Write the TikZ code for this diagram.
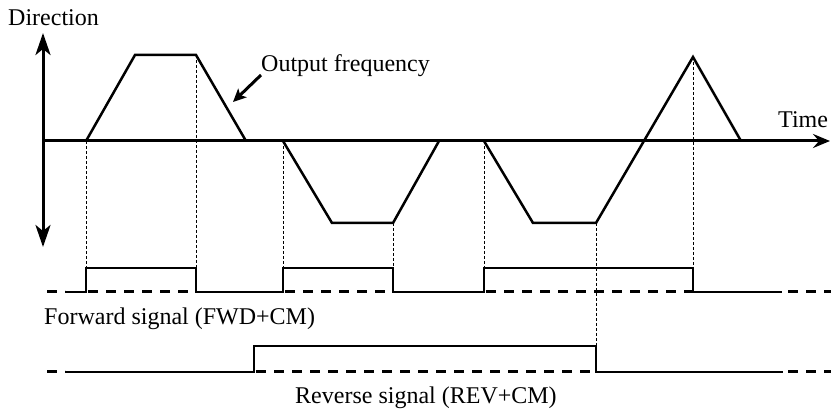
\documentclass[tikz,border=0pt]{standalone}
\usepackage{fontspec}
\setmainfont{Liberation Serif}
\usetikzlibrary{arrows.meta}
\begin{document}
\begin{tikzpicture}[x=1pt,y=-1pt,
  lbl/.style={font=\fontsize{24}{28}\selectfont, inner sep=0pt, anchor=base west},
  axisline/.style={line width=3pt},
  wave/.style={line width=2.5pt, line join=miter},
  sig/.style={line width=2pt, line join=miter},
  sigdash/.style={line width=3pt, dash pattern=on 10pt off 8pt},
  guide/.style={line width=1pt, dash pattern=on 3pt off 2pt}]
\useasboundingbox (0,0) rectangle (831,414);

% texts
\node[lbl] (dir) at (8,26) {Direction};
\node[lbl] (of) at (261,72) {Output frequency};
\node[lbl] (time) at (778,128) {Time};
\node[lbl] (fwd) at (44,325) {Forward signal (FWD+CM)};
\node[lbl] (rev) at (295,403) {Reverse signal (REV+CM)};

% guides
\draw[guide] (86,141) -- (86,268);
\draw[guide] (196,55) -- (196,268);
\draw[guide] (283,141) -- (283,268);
\draw[guide] (393,223) -- (393,268);
\draw[guide] (484,141) -- (484,268);
\draw[guide] (596,223) -- (596,346);
\draw[guide] (693,57) -- (693,268);

% axes
\coordinate (vtop) at (43,33);
\coordinate (vbot) at (43,247);
\coordinate (hstart) at (43,141);
\coordinate (hend) at (830,141);
\draw[axisline, {Stealth[length=22pt,width=15pt,inset=6pt]}-{Stealth[length=22pt,width=15pt,inset=6pt]}] (vtop) -- (vbot);
\draw[axisline, -{Stealth[length=17pt,width=14pt,inset=6pt]}] (hstart) -- (hend);

% output frequency
\draw[wave] (86,141) -- (135,55) -- (196,55) -- (246,141);
\draw[wave] (283,141) -- (332,223) -- (393,223) -- (439,141);
\draw[wave] (484,141) -- (533,223) -- (596,223) -- (693,57) -- (741,141);

\coordinate (oftip) at (233,102);
\draw[line width=3pt, -{Stealth[length=13pt,width=12pt,inset=3pt]}] ([yshift=-3pt]of.base west) -- (oftip);

% forward signal
\draw[sigdash] (47,292) -- (65,292);
\draw[sigdash] (88,292) -- (196,292);
\draw[sigdash] (285,292) -- (393,292);
\draw[sigdash] (486,292) -- (693,292);
\draw[sigdash] (788,292) -- (831,292);
\draw[sig] (65,292) -- (86,292) -- (86,268) -- (196,268) -- (196,292) -- (283,292) -- (283,268) -- (393,268) -- (393,292) -- (484,292) -- (484,268) -- (693,268) -- (693,292) -- (782,292);

% reverse signal
\draw[sigdash] (47,372) -- (65,372);
\draw[sigdash] (256,372) -- (596,372);
\draw[sigdash] (788,372) -- (831,372);
\draw[sig] (65,372) -- (254,372) -- (254,346) -- (596,346) -- (596,372) -- (783,372);
\end{tikzpicture}
\end{document}
